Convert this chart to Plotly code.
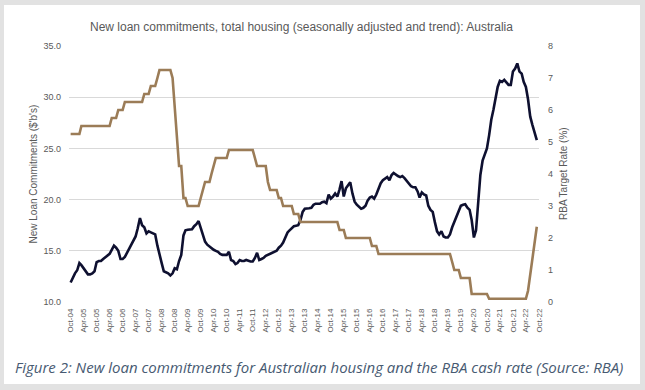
import pandas as pd
import plotly.graph_objects as go

# Monthly data, Oct-2004 .. Sep-2022
start_month = "2004-10-01"

loan_commitments = [
    11.9, 12.4, 12.8, 13.1, 13.8, 13.6, 13.3, 13.0, 12.7, 12.7, 12.8, 13.0,
    13.9, 14.0, 14.0, 14.2, 14.4, 14.5, 14.7, 15.1, 15.5, 15.3, 15.0, 14.2,
    14.2, 14.4, 14.8, 15.2, 15.6, 16.0, 16.4, 17.2, 18.2, 17.5, 17.3, 16.7,
    16.9, 16.8, 16.7, 16.6, 15.5, 14.5, 13.8, 13.0, 12.9, 12.8, 12.6, 12.8,
    13.3, 13.2, 14.0, 14.6, 16.5, 17.0, 17.05, 17.1, 17.1, 17.4, 17.6, 17.9,
    17.2, 16.4, 15.9, 15.6, 15.4, 15.3, 15.1, 15.0, 14.9, 14.7, 14.6, 14.6,
    14.6, 14.9, 14.1, 14.0, 13.7, 13.8, 14.1, 14.0, 14.0, 14.1, 14.0, 13.95,
    13.95, 14.3, 14.8, 14.1, 14.2, 14.3, 14.5, 14.6, 14.7, 14.8, 14.9, 15.0,
    15.3, 15.5, 15.8, 16.4, 16.8, 17.0, 17.2, 17.4, 17.45, 17.5, 18.0, 18.8,
    19.1, 19.1, 19.15, 19.2, 19.5, 19.6, 19.6, 19.6, 19.75, 19.8, 19.65, 20.5,
    20.1, 20.3, 20.6, 20.3, 21.0, 21.8, 20.3, 21.1, 21.4, 21.7, 20.6, 19.8,
    19.5, 19.3, 19.1, 19.2, 19.4, 19.9, 20.2, 20.3, 20.1, 20.5, 21.1, 21.6,
    21.9, 22.1, 22.2, 21.9, 22.4, 22.6, 22.4, 22.3, 22.2, 22.3, 22.1, 21.8,
    21.5, 21.3, 21.2, 21.2, 20.8, 20.2, 20.7, 20.5, 20.4, 19.4, 19.0, 18.8,
    17.8, 16.9, 16.6, 16.9, 16.4, 16.3, 16.3, 16.6, 17.3, 17.8, 18.3, 19.0,
    19.4, 19.5, 19.55, 19.2, 19.0, 18.0, 16.3, 17.0, 19.5, 22.4, 23.8, 24.4,
    25.0, 26.3, 27.8, 28.8, 29.8, 31.0, 31.6, 31.5, 31.7, 31.4, 31.2, 31.2,
    32.5, 32.8, 33.3, 32.5, 32.3, 31.5, 31.0, 29.8, 28.1, 27.3, 26.6, 25.8,
]

cash_rate = [
    5.25, 5.25, 5.25, 5.25, 5.25, 5.5, 5.5, 5.5, 5.5, 5.5, 5.5, 5.5,
    5.5, 5.5, 5.5, 5.5, 5.5, 5.5, 5.5, 5.75, 5.75, 5.75, 6.0, 6.0,
    6.0, 6.25, 6.25, 6.25, 6.25, 6.25, 6.25, 6.25, 6.25, 6.25, 6.5, 6.5,
    6.5, 6.75, 6.75, 6.75, 7.0, 7.25, 7.25, 7.25, 7.25, 7.25, 7.25, 7.0,
    6.0, 5.25, 4.25, 4.25, 3.25, 3.25, 3.0, 3.0, 3.0, 3.0, 3.0, 3.0,
    3.25, 3.5, 3.75, 3.75, 3.75, 4.0, 4.25, 4.5, 4.5, 4.5, 4.5, 4.5,
    4.5, 4.75, 4.75, 4.75, 4.75, 4.75, 4.75, 4.75, 4.75, 4.75, 4.75, 4.75,
    4.75, 4.5, 4.25, 4.25, 4.25, 4.25, 4.25, 3.75, 3.5, 3.5, 3.5, 3.5,
    3.25, 3.25, 3.0, 3.0, 3.0, 3.0, 3.0, 2.75, 2.75, 2.75, 2.5, 2.5,
    2.5, 2.5, 2.5, 2.5, 2.5, 2.5, 2.5, 2.5, 2.5, 2.5, 2.5, 2.5,
    2.5, 2.5, 2.5, 2.5, 2.25, 2.25, 2.25, 2.0, 2.0, 2.0, 2.0, 2.0,
    2.0, 2.0, 2.0, 2.0, 2.0, 2.0, 2.0, 1.75, 1.75, 1.75, 1.5, 1.5,
    1.5, 1.5, 1.5, 1.5, 1.5, 1.5, 1.5, 1.5, 1.5, 1.5, 1.5, 1.5,
    1.5, 1.5, 1.5, 1.5, 1.5, 1.5, 1.5, 1.5, 1.5, 1.5, 1.5, 1.5,
    1.5, 1.5, 1.5, 1.5, 1.5, 1.5, 1.5, 1.5, 1.25, 1.0, 1.0, 1.0,
    0.75, 0.75, 0.75, 0.75, 0.75, 0.25, 0.25, 0.25, 0.25, 0.25, 0.25, 0.25,
    0.25, 0.1, 0.1, 0.1, 0.1, 0.1, 0.1, 0.1, 0.1, 0.1, 0.1, 0.1,
    0.1, 0.1, 0.1, 0.1, 0.1, 0.1, 0.1, 0.35, 0.85, 1.35, 1.85, 2.35,
]

tick_labels = []
for yy in range(4, 23):
    tick_labels.append(f"Oct-{yy:02d}")
    if yy < 22:
        tick_labels.append(f"Apr-{yy + 1:02d}")

title_text = "New loan commitments, total housing (seasonally adjusted and trend): Australia"
caption_text = "Figure 2: New loan commitments for Australian housing and the RBA cash rate (Source: RBA)"
left_title = "New Loan Commitments ($'b's)"
right_title = "RBA Target Rate (%)"

months = pd.date_range(start_month, periods=len(loan_commitments), freq="MS")
tick_vals = [pd.to_datetime(t, format="%b-%y") for t in tick_labels]

W, H = 645, 390
L, R, T, B = 69, 106, 46, 88
PW, PH = W - L - R, H - T - B


def px(x):
    return (x - L) / PW


def py(y):
    return (H - B - y) / PH


NAVY = "#0e1030"
BROWN = "#9b7c57"
GREY_TXT = "#595959"

fig = go.Figure()
fig.add_trace(go.Scatter(x=months, y=cash_rate, yaxis="y2", mode="lines",
                         line=dict(color=BROWN, width=2.6), showlegend=False,
                         name="RBA Target Rate"))
fig.add_trace(go.Scatter(x=months, y=loan_commitments, mode="lines",
                         line=dict(color=NAVY, width=2.6), showlegend=False,
                         name="New loan commitments"))

fig.update_layout(
    width=W, height=H,
    margin=dict(l=L, r=R, t=T, b=B, pad=0),
    paper_bgcolor="#e2e2e2",
    plot_bgcolor="rgba(0,0,0,0)",
    font=dict(family="Liberation Sans, Arial, sans-serif", color=GREY_TXT, size=9),
    xaxis=dict(
        type="date",
        range=["2004-09-08", "2022-10-02"],
        tickvals=tick_vals, ticktext=tick_labels,
        tickangle=-90, tickfont=dict(size=8, color=GREY_TXT),
        showgrid=False, showline=False, zeroline=False, ticks="",
        ticklabelstandoff=4,
    ),
    yaxis=dict(
        range=[10, 35], dtick=5, tick0=10, tickformat=".1f",
        showgrid=True, gridcolor="#d9d9d9", gridwidth=1,
        zeroline=False, showline=False, ticks="",
        tickfont=dict(size=9, color=GREY_TXT),
        ticklabelstandoff=7,
    ),
    yaxis2=dict(
        range=[0, 8], dtick=1, tick0=0, overlaying="y", side="right",
        showgrid=False, zeroline=False, showline=False, ticks="",
        tickfont=dict(size=9, color=GREY_TXT),
        ticklabelstandoff=8,
    ),
    shapes=[
        dict(type="rect", xref="paper", yref="paper",
             x0=px(4), x1=px(640), y0=py(384), y1=py(5),
             fillcolor="white", line=dict(width=0), layer="below"),
    ],
    annotations=[
        dict(text=title_text, xref="paper", yref="paper", x=px(301), y=py(27),
             xanchor="center", yanchor="middle", showarrow=False,
             font=dict(size=12, color=GREY_TXT)),
        dict(text=left_title, xref="paper", yref="paper", x=px(33), y=py(174.5),
             xanchor="center", yanchor="middle", textangle=-90, showarrow=False,
             font=dict(size=10, color=GREY_TXT)),
        dict(text=right_title, xref="paper", yref="paper", x=px(563), y=py(174),
             xanchor="center", yanchor="middle", textangle=-90, showarrow=False,
             font=dict(size=10, color=GREY_TXT)),
        dict(text="<i>" + caption_text + "</i>", xref="paper", yref="paper",
             x=px(13), y=py(366.5), xanchor="left", yanchor="middle", showarrow=False,
             font=dict(family="Open Sans, sans-serif", size=15, color="#475a72")),
    ],
)

fig.write_html(
    "out.html",
    config={"displayModeBar": False},
    post_script="document.body.style.margin='0px';document.body.style.overflow='hidden';",
)
